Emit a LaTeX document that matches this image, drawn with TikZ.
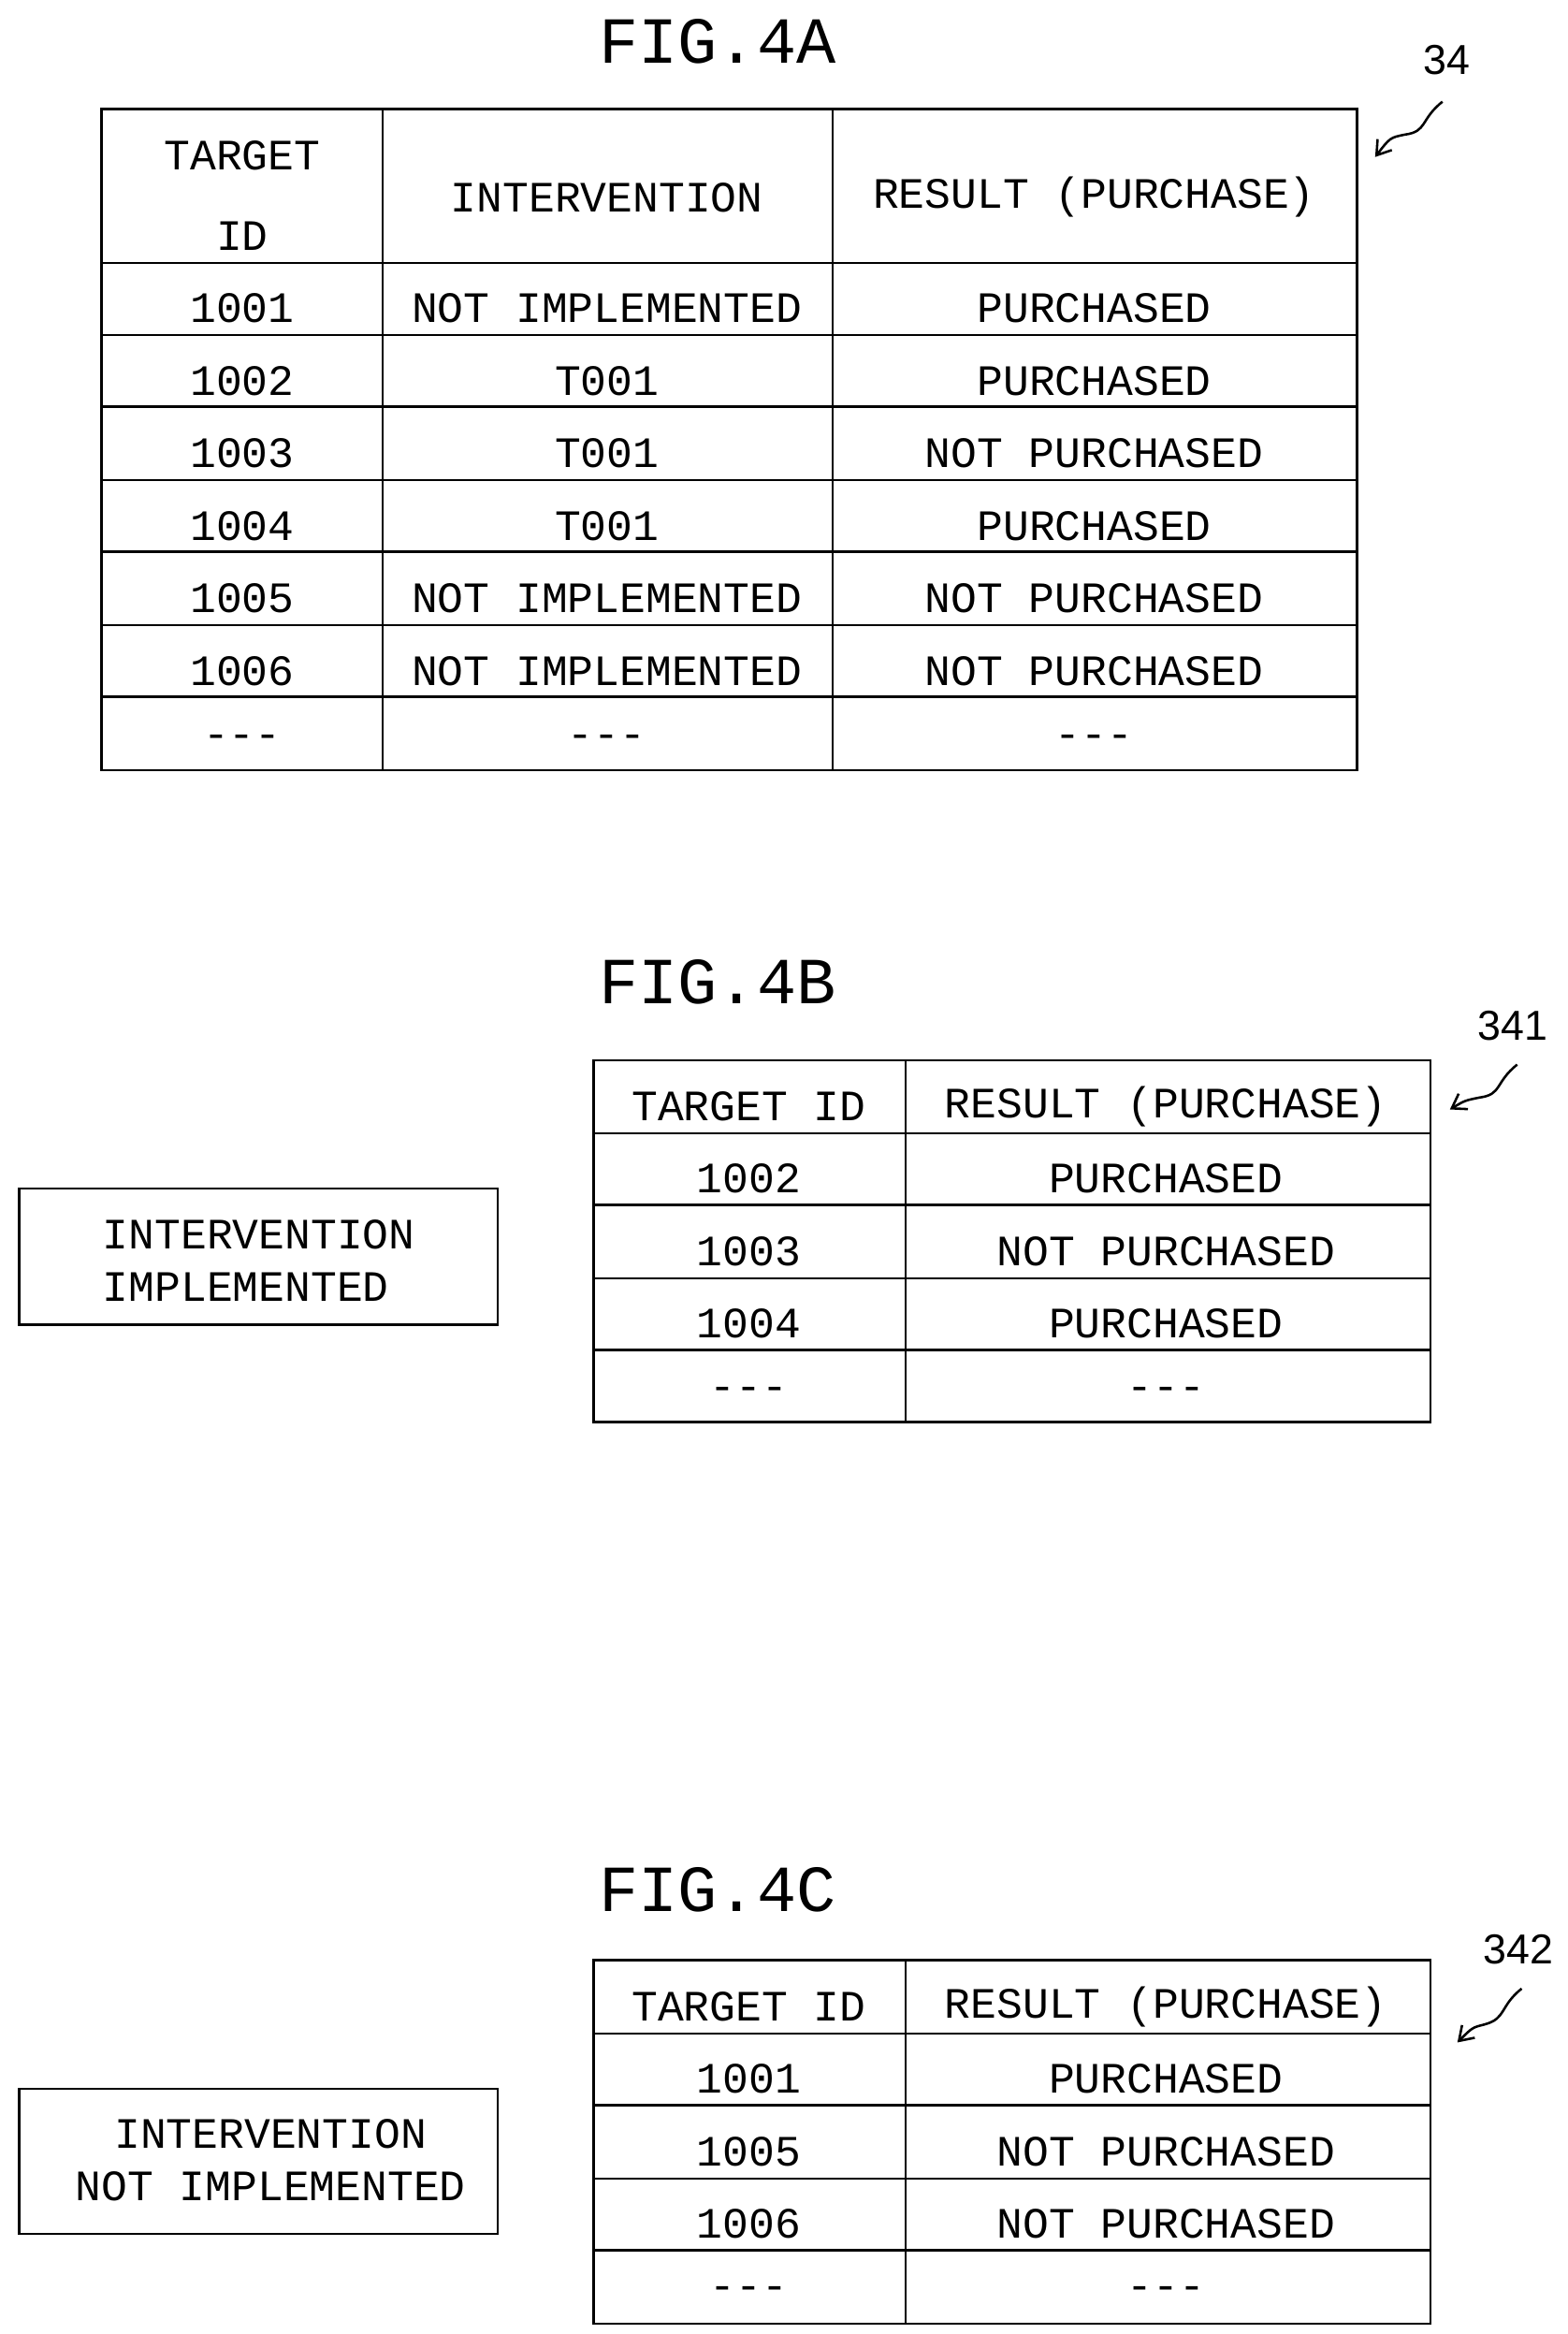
\documentclass[tikz,border=0pt]{standalone}
\usepackage{fontspec}
\setmainfont{Liberation Serif}
\newfontfamily\monof{Liberation Mono}
\newfontfamily\sansf{Liberation Sans}
\usetikzlibrary{arrows.meta}
\begin{document}
\begin{tikzpicture}[x=1pt,y=-1pt,line width=1.6pt,
  t/.style={font=\monof\fontsize{29}{30}\selectfont,inner sep=0pt,anchor=center},
  fig/.style={font=\monof\fontsize{44}{46}\selectfont,inner sep=0pt},
  num/.style={font=\sansf\fontsize{28}{30}\selectfont,inner sep=0pt},
  lead/.style={line width=1.6pt,-{Straight Barb[length=9pt,width=12pt]}}]
\useasboundingbox (0,0) rectangle (1049,1561);
\node[fig] (fa) at (480,28) {FIG.4A};
\node[fig] (fb) at (480,657) {FIG.4B};
\node[fig] (fc) at (480,1264) {FIG.4C};
% table A
\draw (68,73) rectangle (908,515);
\foreach \x in {256,557} \draw (\x,73) -- (\x,515);
\foreach \y in {176,224,272,321,369,418,466} \draw (68,\y) -- (908,\y);
\node[t] (ah1) at (162,104) {TARGET};
\node[t] (ah1b) at (162,158) {ID};
\node[t] (ah2) at (406,132) {INTERVENTION};
\node[t] (ah3) at (732,132) {RESULT (PURCHASE)};
\foreach \i/\y/\a/\b/\c in {1/206/1001/NOT IMPLEMENTED/PURCHASED,2/255/1002/T001/PURCHASED,3/303/1003/T001/NOT PURCHASED,4/352/1004/T001/PURCHASED,5/400/1005/NOT IMPLEMENTED/NOT PURCHASED,6/449/1006/NOT IMPLEMENTED/NOT PURCHASED,7/496/---/---/---}{
  \node[t] (a\i a) at (162,\y) {\a};
  \node[t] (a\i b) at (406,\y) {\b};
  \node[t] (a\i c) at (732,\y) {\c};}
\node[num] (n34) at (968,40) {34};
\coordinate (p34) at (920,105);
\draw[lead] (965,68) .. controls (950,80) and (955,88) .. (940,90) .. controls (930,92) .. (p34);
% table B
\draw (397,709) rectangle (957,951);
\draw (606,709) -- (606,951);
\foreach \y in {758,806,855,903} \draw (397,\y) -- (957,\y);
\node[t] (bh1) at (501,740) {TARGET ID};
\node[t] (bh2) at (780,740) {RESULT (PURCHASE)};
\foreach \i/\y/\a/\c in {1/788/1002/PURCHASED,2/837/1003/NOT PURCHASED,3/885/1004/PURCHASED,4/932/---/---}{
  \node[t] (b\i a) at (501,\y) {\a};
  \node[t] (b\i c) at (780,\y) {\c};}
\draw (13,795) rectangle (333,886);
\node[t,anchor=west] (bi1) at (68,826) {INTERVENTION};
\node[t,anchor=west] (bi2) at (68,861) {IMPLEMENTED};
\node[num] (n341) at (1012,686) {341};
\coordinate (p341) at (970,742);
\draw[lead] (1015,712) .. controls (1000,724) and (1005,732) .. (990,734) .. controls (980,736) .. (p341);
% table C
\draw (397,1311) rectangle (957,1554);
\draw (606,1311) -- (606,1554);
\foreach \y in {1360,1408,1457,1505} \draw (397,\y) -- (957,\y);
\node[t] (ch1) at (501,1342) {TARGET ID};
\node[t] (ch2) at (780,1342) {RESULT (PURCHASE)};
\foreach \i/\y/\a/\c in {1/1390/1001/PURCHASED,2/1439/1005/NOT PURCHASED,3/1487/1006/NOT PURCHASED,4/1534/---/---}{
  \node[t] (c\i a) at (501,\y) {\a};
  \node[t] (c\i c) at (780,\y) {\c};}
\draw (13,1397) rectangle (333,1494);
\node[t] (ci1) at (181,1427) {INTERVENTION};
\node[t] (ci2) at (181,1462) {NOT IMPLEMENTED};
\node[num] (n342) at (1016,1304) {342};
\coordinate (p342) at (975,1366);
\draw[lead] (1018,1330) .. controls (1003,1342) and (1008,1350) .. (993,1354) .. controls (985,1356) .. (p342);
\end{tikzpicture}
\end{document}
